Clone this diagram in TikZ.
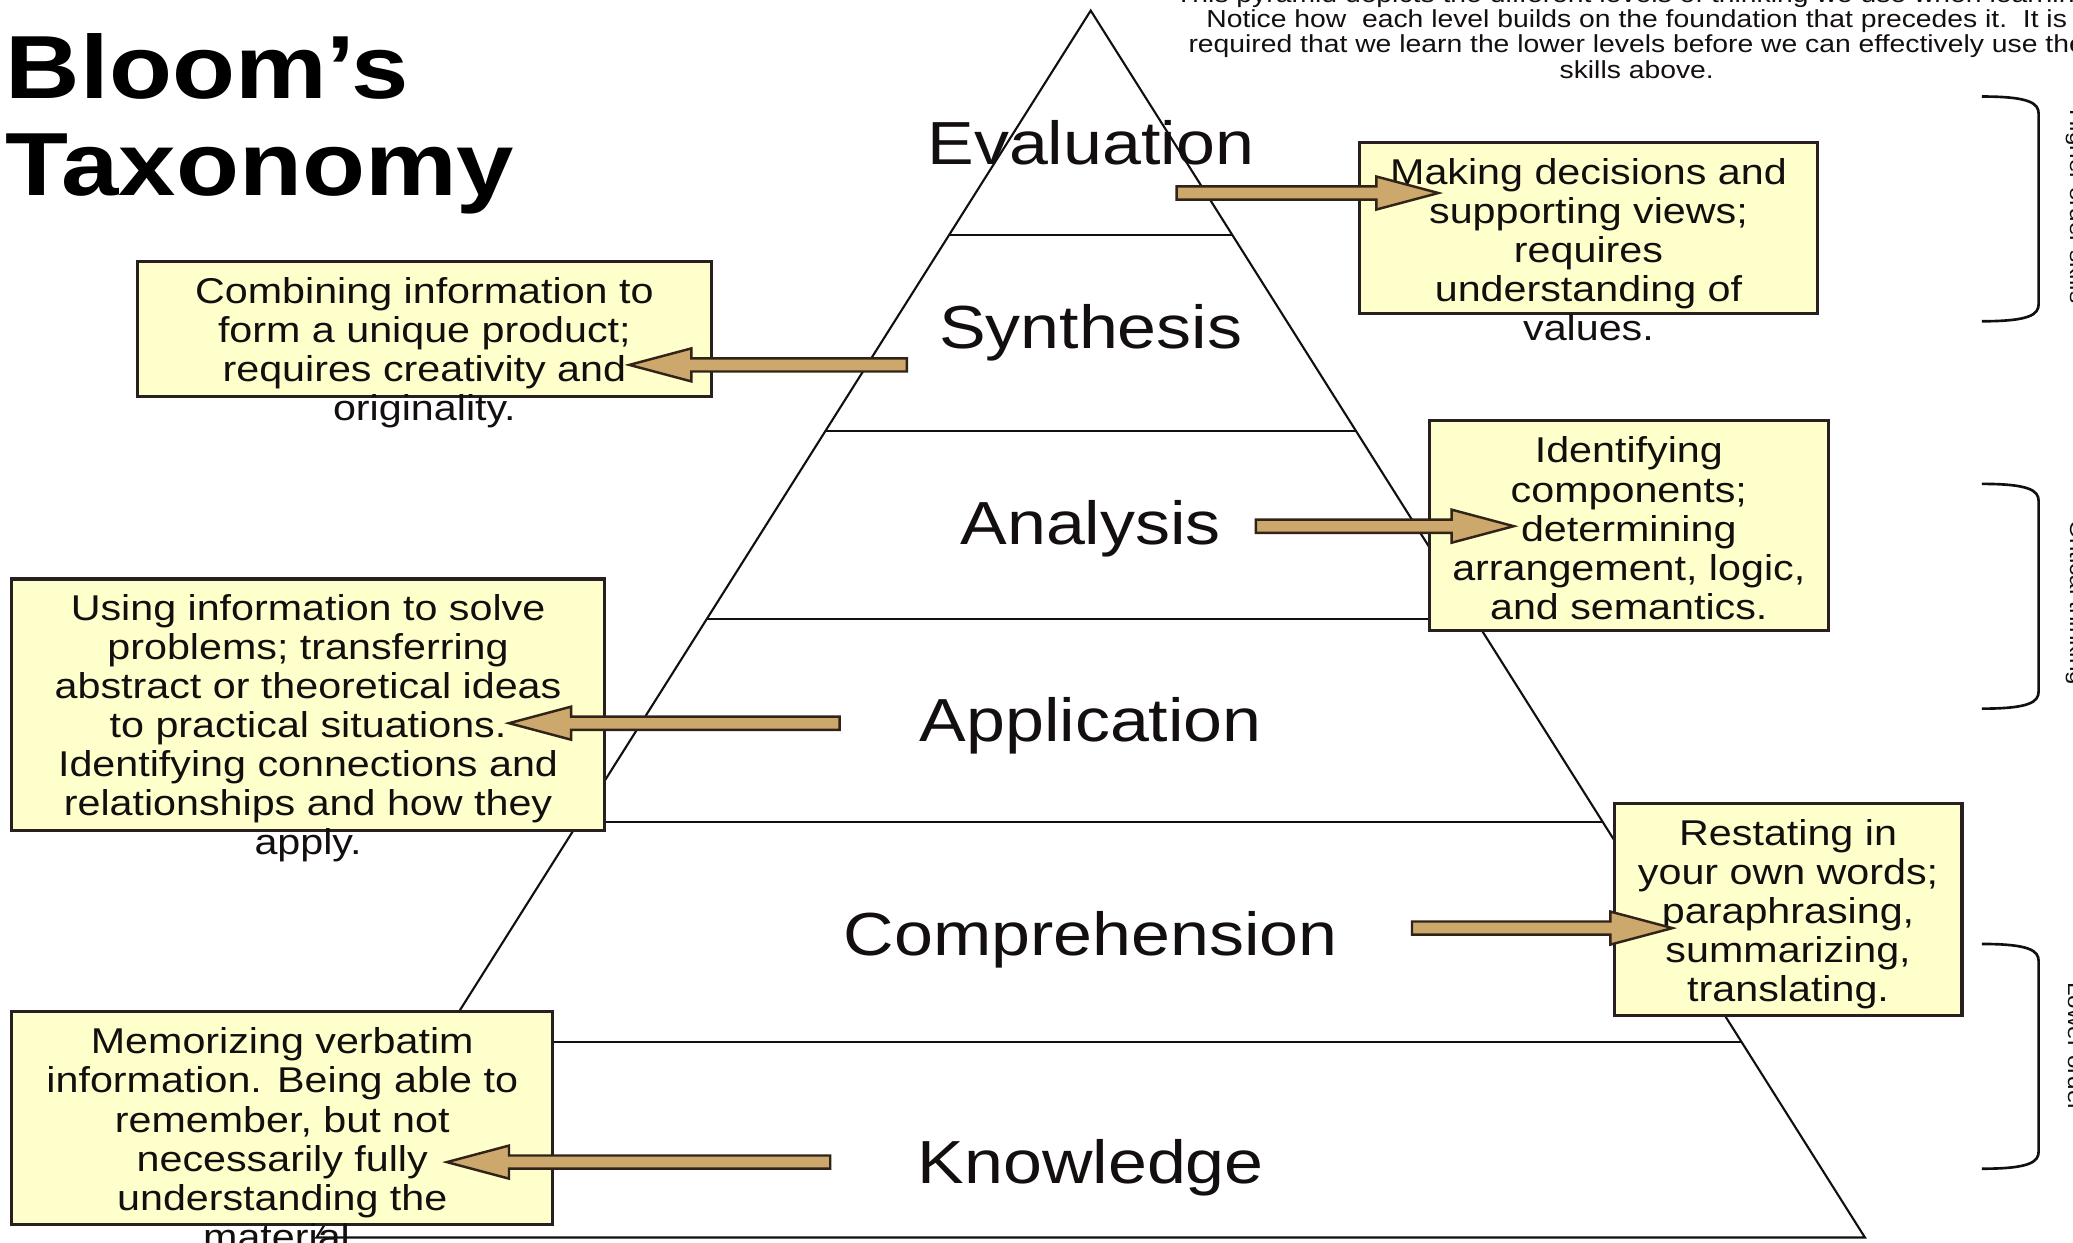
\documentclass[tikz,border=0pt]{standalone}
\usepackage{fontspec}
\setmainfont{Liberation Sans}[FakeStretch=1.15]
\usetikzlibrary{calc,fit}
\definecolor{boxfill}{RGB}{255,255,204}
\definecolor{boxedge}{RGB}{40,32,32}
\definecolor{arrfill}{RGB}{204,168,108}
\definecolor{arredge}{RGB}{50,35,25}
\definecolor{ink}{RGB}{20,15,15}
\newcommand\blockarrow[3]{%
  \draw[barrow] ($(#1)+(0,-5)$) -- ($(#2)+(#3,-5)$) -- ($(#2)+(#3,-12.5)$) -- (#2) -- ($(#2)+(#3,12.5)$) -- ($(#2)+(#3,5)$) -- ($(#1)+(0,5)$) -- cycle;}
\begin{document}
\begin{tikzpicture}[x=0.01322cm,y=-0.01322cm,
  pyr/.style={draw=ink, line width=0.6pt},
  box/.style={draw=boxedge, fill=boxfill, line width=0.9pt, inner sep=0pt},
  btext/.style={align=center, inner sep=0pt, text=ink, anchor=north, font=\fontsize{10.2}{11.1}\selectfont},
  level/.style={inner sep=0pt, anchor=base, text=ink, font=\fontsize{17.3}{20}\selectfont},
  barrow/.style={draw=arredge, fill=arrfill, line width=0.7pt, line join=miter},
  brace/.style={draw=ink, line width=0.75pt},
  side/.style={rotate=-90, inner sep=0pt, font=\fontsize{6}{7}\selectfont, text=ink}
]
\useasboundingbox (0,0) rectangle (1568,940);
\begin{scope}
\clip (0,0) rectangle (1568,940);
% title
\node[anchor=north west, align=left, inner sep=0pt, text=black, font=\bfseries\fontsize{25.5}{27.5}\selectfont] (title) at (4,25) {Bloom’s\\Taxonomy};
% note
\node[anchor=north, align=center, inner sep=0pt, text=ink, font=\fontsize{7}{7.15}\selectfont] (note) at (1238,-12) {This pyramid depicts the different levels of thinking we use when learning.\\Notice how\ \ each level builds on the foundation that precedes it.\ \ It is\\required that we learn the lower levels before we can effectively use the\\skills above.};
% pyramid
\coordinate (apex) at (825,8);
\coordinate (bl) at (239.4,936);
\coordinate (br) at (1410.6,936);
\draw[pyr] (apex) -- (bl) -- (br) -- cycle;
\foreach \t [count=\i] in {0.1832,0.3427,0.4957,0.6616,0.8405}
  \draw[pyr] ($(apex)!\t!(bl)$) coordinate (L\i) -- ($(apex)!\t!(br)$) coordinate (R\i);
% level labels
\node[level] (evaluation) at (825,124.5) {Evaluation};
\node[level] (synthesis) at (825,263.5) {Synthesis};
\node[level] (analysis) at (825,411.5) {Analysis};
\node[level] (application) at (825,560.5) {Application};
\node[level] (comprehension) at (825,722.5) {Comprehension};
\node[level] (knowledge) at (825,895.5) {Knowledge};
% boxes
\node[box, fit={(1028,108) (1375,237)}] (bEval) {};
\node[box, fit={(104,198) (538,300)}] (bSynth) {};
\node[box, fit={(1081,318) (1383,477)}] (bAnal) {};
\node[box, fit={(9,438) (457,628)}] (bAppl) {};
\node[box, fit={(1221,608) (1484,768)}] (bComp) {};
\node[box, fit={(9,765) (418,926)}] (bKnow) {};
% box texts
\node[btext] (tEval) at (1201.5,119) {Making decisions and\\supporting views;\\requires\\understanding of\\values.};
\node[btext] (tSynth) at (321,209) {Combining information to\\form a unique product;\\requires creativity and\\originality.};
\node[btext] (tAnal) at (1232,330) {Identifying\\components;\\determining\\arrangement, logic,\\and semantics.};
\node[btext] (tAppl) at (233,449) {Using information to solve\\problems; transferring\\abstract or theoretical ideas\\to practical situations.\\Identifying connections and\\relationships and how they\\apply.};
\node[btext] (tComp) at (1352.5,619) {Restating in\\your own words;\\paraphrasing,\\summarizing,\\translating.};
\node[btext] (tKnow) at (213.5,777) {Memorizing verbatim\\information. Being able to\\remember, but not\\necessarily fully\\understanding the\\material.};
% arrows
\coordinate (aE1) at (890,146);  \coordinate (aE2) at (1088,146);
\coordinate (aS1) at (686,276);  \coordinate (aS2) at (476,276);
\coordinate (aA1) at (950,398);  \coordinate (aA2) at (1145,398);
\coordinate (aP1) at (635,547);  \coordinate (aP2) at (385,547);
\coordinate (aC1) at (1068,702); \coordinate (aC2) at (1265,702);
\coordinate (aK1) at (628,879);  \coordinate (aK2) at (338,879);
\blockarrow{aE1}{aE2}{-47}
\blockarrow{aS1}{aS2}{47}
\blockarrow{aA1}{aA2}{-47}
\blockarrow{aP1}{aP2}{47}
\blockarrow{aC1}{aC2}{-47}
\blockarrow{aK1}{aK2}{47}
% brackets
\foreach \y/\n in {73/1,366/2,714/3}
  \draw[brace] (1499,\y) coordinate (br\n top) .. controls (1535,\y) and (1542,\y+5) .. (1542,\y+13) -- (1542,\y+157) .. controls (1542,\y+165) and (1535,\y+170) .. (1499,\y+170) coordinate (br\n bot);
\node[side] (side1) at (1570,156) {Higher order skills};
\node[side] (side2) at (1570,456) {Critical thinking};
\node[side] (side3) at (1570,792) {Lower order};
\end{scope}
\end{tikzpicture}
\end{document}
